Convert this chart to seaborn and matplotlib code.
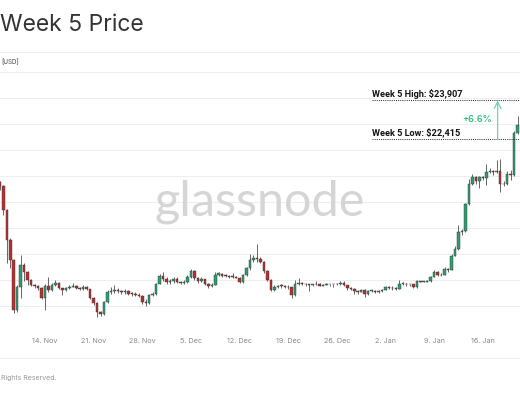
import numpy as np
import pandas as pd
import matplotlib
matplotlib.use("Agg")
import matplotlib.pyplot as plt
import matplotlib.dates as mdates
import matplotlib.transforms as mtransforms
from matplotlib.lines import Line2D
from matplotlib.ticker import FuncFormatter
import seaborn as sns

# 12h BTC/USD candles (open = previous close)
start = "2022-11-07 12:00"
first_open = 20760
close = [20600, 19700, 18540, 17770, 15850, 16730, 17580, 17320, 17000, 16810,
         16760, 16680, 16310, 16770, 16620, 16810, 16870, 16690, 16620, 16690,
         16740, 16770, 16700, 16660, 16730, 16650, 16300, 16120, 15780, 15700,
         16150, 16540, 16560, 16600, 16580, 16550, 16560, 16470, 16460, 16440,
         16400, 16170, 16120, 16420, 16460, 16850, 17140, 17050, 16920, 16960,
         17050, 16920, 16880, 16920, 17110, 17350, 17070, 16960, 17020, 16860,
         16770, 16820, 17190, 17250, 17170, 17150, 17130, 17120, 17090, 16930,
         17210, 17450, 17780, 17860, 17810, 17700, 17360, 17000, 16630, 16720,
         16780, 16760, 16740, 16720, 16440, 16850, 16900, 16860, 16830, 16820,
         16830, 16850, 16780, 16820, 16840, 16830, 16830, 16850, 16900, 16810,
         16690, 16650, 16560, 16530, 16620, 16470, 16580, 16590, 16540, 16560,
         16620, 16720, 16680, 16690, 16670, 16850, 16860, 16830, 16830, 16720,
         16950, 16930, 16940, 16960, 17120, 17300, 17180, 17200, 17440, 17400,
         17940, 18200, 18850, 18880, 19930, 20700, 20950, 20800, 20950, 20930,
         21160, 21200, 21140, 21200, 20680, 20700, 21070, 21050, 22670, 22950]
high = [20800, 20650, 19750, 18600, 17800, 16800, 17960, 17650, 17350, 17050,
        16850, 16800, 16720, 16850, 17100, 16900, 17000, 16920, 16700, 16740,
        16800, 16900, 16800, 16720, 16800, 16760, 16650, 16330, 16150, 15800,
        16200, 16600, 16730, 16800, 16680, 16620, 16640, 16600, 16550, 16520,
        16500, 16420, 16250, 16480, 16550, 16900, 17230, 17300, 17100, 17050,
        17120, 17100, 16960, 16990, 17200, 17420, 17380, 17100, 17100, 17050,
        16880, 16900, 17300, 17320, 17260, 17220, 17200, 17270, 17150, 17100,
        17240, 17500, 17990, 17950, 18370, 17880, 17720, 17380, 17020, 16800,
        16800, 16850, 16800, 16800, 16730, 17000, 17060, 16910, 16880, 16860,
        16860, 16950, 16870, 16860, 16870, 16860, 16850, 16900, 16950, 16960,
        16820, 16720, 16680, 16600, 16650, 16640, 16620, 16630, 16600, 16600,
        16640, 16760, 16760, 16770, 16720, 16990, 16920, 16880, 16860, 16850,
        16990, 16970, 16970, 17000, 17140, 17390, 17350, 17250, 17490, 17460,
        17990, 18300, 19100, 18950, 19960, 20900, 21080, 21000, 21000, 21000,
        21450, 21300, 21250, 21600, 21650, 20800, 21180, 21250, 22750, 23300]
low = [20450, 19500, 17650, 17460, 15730, 15750, 16300, 16950, 16800, 16750,
       16700, 16600, 16250, 15850, 16550, 16580, 16750, 16640, 16420, 16580,
       16640, 16720, 16650, 16600, 16620, 16600, 16250, 16050, 15590, 15600,
       15650, 16100, 16450, 16500, 16500, 16470, 16480, 16420, 16400, 16380,
       16350, 16080, 16000, 16080, 16380, 16420, 16830, 16950, 16860, 16850,
       16900, 16880, 16850, 16860, 16880, 17080, 17000, 16900, 16920, 16800,
       16680, 16720, 16800, 17150, 17100, 17100, 17090, 17080, 17060, 16880,
       16870, 17150, 17400, 17680, 17700, 17650, 17280, 16950, 16580, 16590,
       16690, 16700, 16700, 16650, 16300, 16400, 16820, 16800, 16760, 16560,
       16750, 16800, 16760, 16780, 16800, 16780, 16740, 16800, 16820, 16760,
       16600, 16600, 16470, 16450, 16520, 16350, 16440, 16540, 16490, 16500,
       16540, 16600, 16640, 16620, 16600, 16660, 16800, 16780, 16760, 16690,
       16700, 16910, 16910, 16920, 16940, 17100, 17150, 17150, 17180, 17320,
       17380, 17910, 18150, 18730, 18850, 19900, 20650, 20700, 20550, 20850,
       20640, 21100, 21050, 21100, 20400, 20600, 20660, 20860, 21000, 22600]
assert len(close) == len(high) == len(low) == 150

week5_high = 23907
week5_low = 22415
change_label = "+6.6%"

x_left = "2022-11-07 12:36"
x_right = "2023-01-21 08:24"

green = "#2f9e73"
red = "#b8312f"

sns.set_theme(style="white")
plt.rcParams['font.family'] = ['Inter', 'DejaVu Sans']

df = pd.DataFrame({
    'time': pd.date_range(start, periods=len(close), freq='12h'),
    'close': close, 'high': high, 'low': low,
})
df['open'] = df['close'].shift(1).fillna(first_open)
df['up'] = df['close'] >= df['open']
t = mdates.date2num(df['time'])

fig = plt.figure(figsize=(5.2, 4), dpi=100)
fig.patch.set_facecolor('white')
ax = fig.add_axes([0, 0.17, 1, 0.65])

# wicks + bodies
ax.vlines(t, df['low'], df['high'], color='#2b2b2b', lw=0.5, zorder=2)
body = (df['close'] - df['open']).abs().clip(lower=30)
bottom = df[['open', 'close']].min(axis=1)
ax.bar(t, body, bottom=bottom, width=0.36,
       color=np.where(df['up'], green, red), edgecolor='#333333',
       linewidth=0.3, zorder=3)

ax.set_xlim(mdates.datestr2num(x_left), mdates.datestr2num(x_right))
ax.set_ylim(15000, 25000)
ax.set_yticks(range(15000, 25001, 1000))
ax.yaxis.grid(True, color='#eeeeee', lw=0.8)
ax.xaxis.grid(False)
for s in ax.spines.values():
    s.set_visible(False)
ax.tick_params(axis='y', labelleft=False, length=0)

ax.xaxis.set_major_locator(mdates.WeekdayLocator(byweekday=mdates.MO))
ax.xaxis.set_major_formatter(FuncFormatter(
    lambda v, p: f"{mdates.num2date(v).day}. {mdates.num2date(v):%b}"))
ax.tick_params(axis='x', length=0, labelsize=5.2, colors='#888888', pad=4)

# watermark
ax.text(0.5, 0.5, "glassnode", transform=ax.transAxes, fontsize=35,
        color='#d5d5d5', ha='center', va='center', family='Lato', zorder=1)

# week 5 high / low annotation
trans = mtransforms.blended_transform_factory(ax.transAxes, ax.transData)
for val, name in [(week5_high, "High"), (week5_low, "Low")]:
    ax.plot([0.715, 1], [val, val], transform=trans, color='#222222',
            lw=0.7, ls=(0, (1, 1.2)), zorder=4)
    ax.text(0.716, val + 70, f"Week 5 {name}: ${val:,}", transform=trans,
            fontsize=6.6, fontweight='bold', color='#111111', va='bottom',
            family='Roboto', zorder=5)
ax.annotate('', xy=(0.957, week5_high), xytext=(0.957, week5_low),
            xycoords=trans, textcoords=trans,
            arrowprops=dict(arrowstyle='->', color='#6fd3ad', lw=0.9,
                            shrinkA=0, shrinkB=0), zorder=5)
ax.text(0.946, (week5_high + week5_low) / 2, change_label, transform=trans,
        fontsize=6.5, color='#2fbf80', fontweight='semibold', ha='right',
        va='center', zorder=5)

# header / footer
fig.text(0, 1 - 25 / 400, "Week 5 Price", fontsize=16.5, color='#333333',
         va='center', ha='left')
fig.text(1 / 520, 1 - 62 / 400, "[USD]", fontsize=4.5, color='#444444',
         va='center', ha='left')
fig.text(1 / 520, 1 - 378 / 400, "Rights Reserved.",
         fontsize=5, color='#999999', va='center', ha='left')
for yy in (52, 358):
    fig.add_artist(Line2D([0, 1], [1 - yy / 400] * 2, transform=fig.transFigure,
                          color='#eeeeee', lw=0.8))

fig.savefig('out.png', dpi=100, facecolor='white')
